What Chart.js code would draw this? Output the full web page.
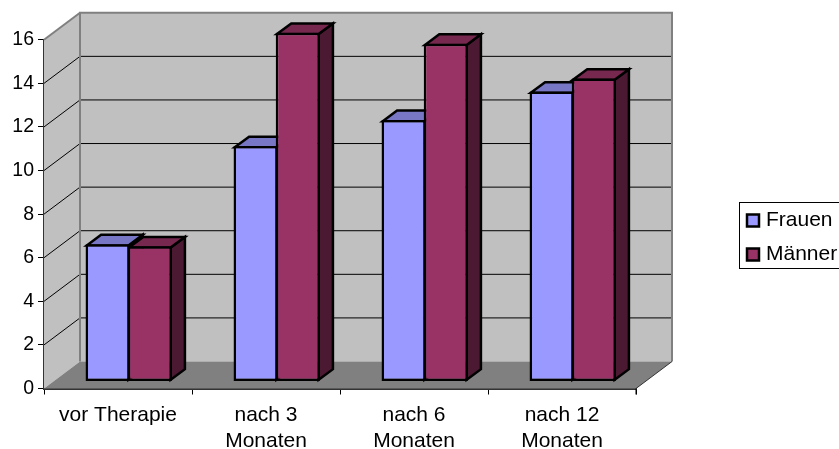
<!DOCTYPE html>
<html>
<head>
<meta charset="utf-8">
<style>
  html, body { margin: 0; padding: 0; background: #fff; overflow: hidden; }
  #wrap { width: 839px; height: 449px; }
</style>
<script src="https://cdn.jsdelivr.net/npm/chart.js@4"></script>
</head>
<body>
<div id="wrap"><canvas id="chart"></canvas></div>
<script>
var categories = ["vor Therapie", ["nach 3", "Monaten"], ["nach 6", "Monaten"], ["nach 12", "Monaten"]];
var frauen = [6.3, 10.8, 12.0, 13.3];
var maenner = [6.2, 16.0, 15.5, 13.9];
var seriesNames = ["Frauen", "Männer"];

var WALL_DX = 36, WALL_DY = 27;       // how far the back wall sits behind the axes
var BAR_DX = 10.7, BAR_DY = 7;        // bars stand a bit inside the floor
var DEPTH_DX = 14.3, DEPTH_DY = 10.6; // depth of one bar
var BAR_LINE = 2.5;

var faceColors = [
  {top: "#7777c6", side: "#4c4c80"},
  {top: "#77284f", side: "#4c1933"}
];

function fillPoly(ctx, pts, fill, stroke, width) {
  ctx.beginPath();
  ctx.moveTo(pts[0][0], pts[0][1]);
  for (var i = 1; i < pts.length; i++) {
    ctx.lineTo(pts[i][0], pts[i][1]);
  }
  ctx.closePath();
  if (fill) {
    ctx.fillStyle = fill;
    ctx.fill();
  }
  if (stroke) {
    ctx.strokeStyle = stroke;
    ctx.lineWidth = width;
    ctx.stroke();
  }
}

function line(ctx, x1, y1, x2, y2, color, width) {
  ctx.beginPath();
  ctx.moveTo(x1, y1);
  ctx.lineTo(x2, y2);
  ctx.strokeStyle = color;
  ctx.lineWidth = width;
  ctx.stroke();
}

function drawWalls(chart) {
  var ctx = chart.ctx;
  var a = chart.chartArea;
  var yScale = chart.scales.y;
  var bl = a.left + WALL_DX, br = a.right + WALL_DX;
  var bt = a.top - WALL_DY, bb = a.bottom - WALL_DY;

  fillPoly(ctx, [[a.left, a.top], [bl, bt], [bl, bb], [a.left, a.bottom]], "#c0c0c0");
  fillPoly(ctx, [[bl, bt], [br, bt], [br, bb], [bl, bb]], "#c0c0c0");
  fillPoly(ctx, [[a.left, a.bottom], [a.right, a.bottom], [br, bb], [bl, bb]], "#808080");

  yScale.ticks.forEach(function(t) {
    if (t.value === yScale.min || t.value === yScale.max) return;
    var y = yScale.getPixelForValue(t.value);
    line(ctx, a.left, y, bl, y - WALL_DY, "#000", 1);
    line(ctx, bl, y - WALL_DY, br, y - WALL_DY, "#000", 1);
  });

  // wall edges
  ctx.lineJoin = "miter";
  line(ctx, a.left, a.top, bl, bt, "#808080", 2);
  line(ctx, bl, bt, bl, bb, "#808080", 2);
  line(ctx, bl - 1, bt, br + 1, bt, "#808080", 2);
  line(ctx, br, bt, br, bb, "#808080", 2);
  line(ctx, a.right, a.bottom, br, bb, "#333", 1);
  line(ctx, a.right, a.bottom, a.right, a.bottom + 6, "#000", 1);
}

function drawBarFaces(chart) {
  var ctx = chart.ctx;
  var inset = BAR_LINE / 2;
  chart.data.datasets.forEach(function(ds, i) {
    chart.getDatasetMeta(i).data.forEach(function(bar) {
      var p = bar.getProps(["x", "y", "base", "width"], true);
      var right = p.x + p.width / 2 - inset;
      var left = p.x - p.width / 2 + inset;
      var top = p.y + inset;
      var bottom = p.base - inset;
      fillPoly(ctx, [[right, top], [right + DEPTH_DX, top - DEPTH_DY],
        [right + DEPTH_DX, bottom - DEPTH_DY], [right, bottom]], faceColors[i].side, "#000", BAR_LINE);
      fillPoly(ctx, [[left, top], [left + DEPTH_DX, top - DEPTH_DY],
        [right + DEPTH_DX, top - DEPTH_DY], [right, top]], faceColors[i].top, "#000", BAR_LINE);
    });
  });
}

var box3d = {
  id: "box3d",
  afterLayout: function(chart) {
    // legend sits free at the right edge, outside the plot
    var lg = chart.legend;
    lg.left = 737.5;
    lg.right = 857.5;
    lg.top = 197;
    lg.bottom = 300;
    lg.width = 120;
    lg.height = 103;
    lg.adjustHitBoxes();
  },
  beforeDatasetsDraw: function(chart) {
    var ctx = chart.ctx;
    ctx.save();
    drawWalls(chart);
    ctx.restore();

    ctx.save();
    ctx.translate(BAR_DX, -BAR_DY);
    ctx.lineJoin = "miter";
    drawBarFaces(chart);
  },
  afterDatasetsDraw: function(chart) {
    chart.ctx.restore();
  },
  beforeDraw: function(chart) {
    var ctx = chart.ctx;
    ctx.save();
    ctx.strokeStyle = "#000";
    ctx.lineWidth = 1;
    ctx.strokeRect(739.5, 202.5, 110, 66);
    ctx.restore();
  }
};

var labelFamily = "'Liberation Sans', Arial, sans-serif";

function main() {
  Chart.defaults.color = "#000";
  new Chart("chart", {
    type: "bar",
    data: {
      labels: categories,
      datasets: [{
        label: seriesNames[0],
        data: frauen,
        backgroundColor: "#9999ff",
        borderColor: "#000",
        borderWidth: BAR_LINE,
        borderSkipped: false,
        clip: false
      }, {
        label: seriesNames[1],
        data: maenner,
        backgroundColor: "#993366",
        borderColor: "#000",
        borderWidth: BAR_LINE,
        borderSkipped: false,
        clip: false
      }]
    },
    options: {
      responsive: true,
      maintainAspectRatio: false,
      animation: false,
      categoryPercentage: 0.57,
      barPercentage: 1.047,
      layout: {padding: {top: 39.75, right: 203, bottom: 0, left: 0}},
      plugins: {
        tooltip: {enabled: false},
        legend: {
          position: "chartArea",
          align: "start",
          labels: {
            font: {family: labelFamily, size: 21},
            usePointStyle: true,
            pointStyle: "rect",
            boxWidth: 5,
            boxHeight: 12,
            padding: 13
          }
        }
      },
      scales: {
        x: {
          afterFit: function(s) { s.height = 60.5; },
          grid: {drawOnChartArea: false, color: "#000", tickLength: 6},
          border: {color: "#333", width: 2},
          ticks: {font: {family: labelFamily, size: 21, lineHeight: 1.27}, maxRotation: 0, padding: 7, autoSkip: false}
        },
        y: {
          min: 0,
          max: 16,
          afterFit: function(s) { s.width = 44; },
          grid: {drawOnChartArea: false, color: "#000", tickLength: 6},
          border: {color: "#333", width: 2},
          ticks: {font: {family: labelFamily, size: 19.5}, stepSize: 2, padding: 4}
        }
      }
    },
    plugins: [box3d]
  });
}

main();
</script>
</body>
</html>
